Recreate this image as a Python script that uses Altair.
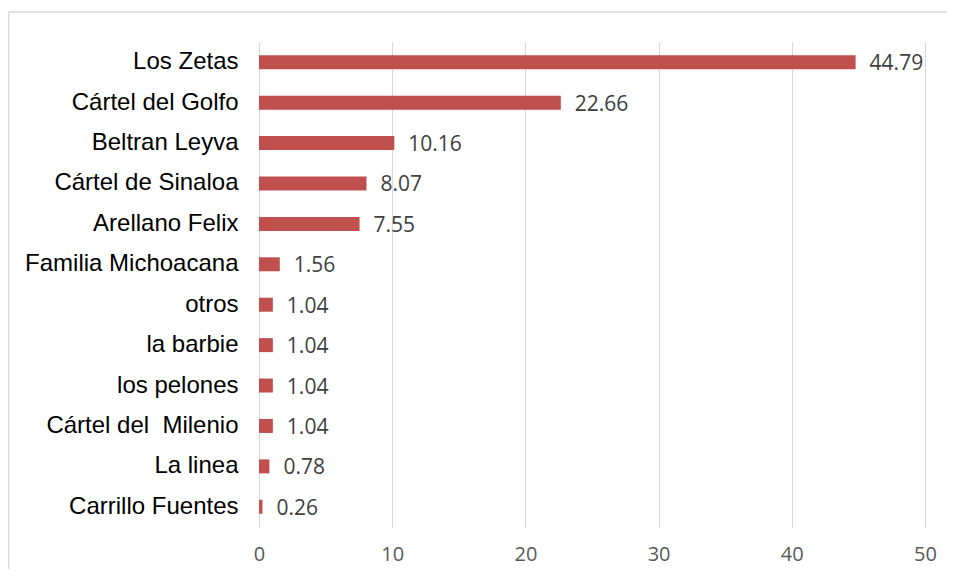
import altair as alt
import pandas as pd

categories = [
    "Los Zetas", "Cártel del Golfo", "Beltran Leyva", "Cártel de Sinaloa",
    "Arellano Felix", "Familia Michoacana", "otros", "la barbie",
    "los pelones", "Cártel del\u00a0 Milenio", "La linea", "Carrillo Fuentes",
]
values = [44.79, 22.66, 10.16, 8.07, 7.55, 1.56, 1.04, 1.04, 1.04, 1.04, 0.78, 0.26]
x_ticks = [0, 10, 20, 30, 40, 50]

df = pd.DataFrame({"cartel": categories, "pct": values})

W, H = 666, 485

x_enc = alt.X(
    "pct:Q",
    scale=alt.Scale(domain=[0, 50], nice=False),
    axis=alt.Axis(
        values=x_ticks, title=None, grid=True, gridColor="#d9d9d9", gridWidth=1.2,
        domain=False, ticks=False, labelFont="Open Sans", labelFontSize=20,
        labelColor="#595959", labelPadding=17, labelFlush=False,
    ),
)
y_enc = alt.Y(
    "cartel:N",
    sort=categories,
    axis=alt.Axis(
        title=None, domain=False, ticks=False, labelFont="Liberation Sans",
        labelFontSize=24, labelColor="#000000", labelPadding=21, labelLimit=400,
    ),
)

bars = alt.Chart(df).mark_bar(size=14, color="#C0504D").encode(x=x_enc, y=y_enc)

labels = alt.Chart(df).mark_text(
    align="left", baseline="middle", dx=14, dy=2,
    font="Open Sans", fontSize=21, color="#404040",
).encode(
    x=alt.X("pct:Q"),
    y=alt.Y("cartel:N", sort=categories),
    text=alt.Text("pct:Q", format=".2f"),
)

one = pd.DataFrame({"a": [0]})
top_border = alt.Chart(one).mark_rule(color="#d9d9d9", strokeWidth=1.5).encode(
    x=alt.value(-250.5), x2=alt.value(W + 40), y=alt.value(-30)
)
left_border = alt.Chart(one).mark_rule(color="#d9d9d9", strokeWidth=1.5).encode(
    x=alt.value(-250.5), y=alt.value(-30), y2=alt.value(H + 60)
)

chart = alt.layer(bars, labels, top_border, left_border).properties(
    width=W, height=H,
    autosize=alt.AutoSizeParams(type="none"),
    padding={"left": 251, "top": 34, "right": 22, "bottom": 42},
    background="white",
).configure_view(stroke=None)

chart.save("out.html", embed_options={"renderer": "svg", "actions": False})
